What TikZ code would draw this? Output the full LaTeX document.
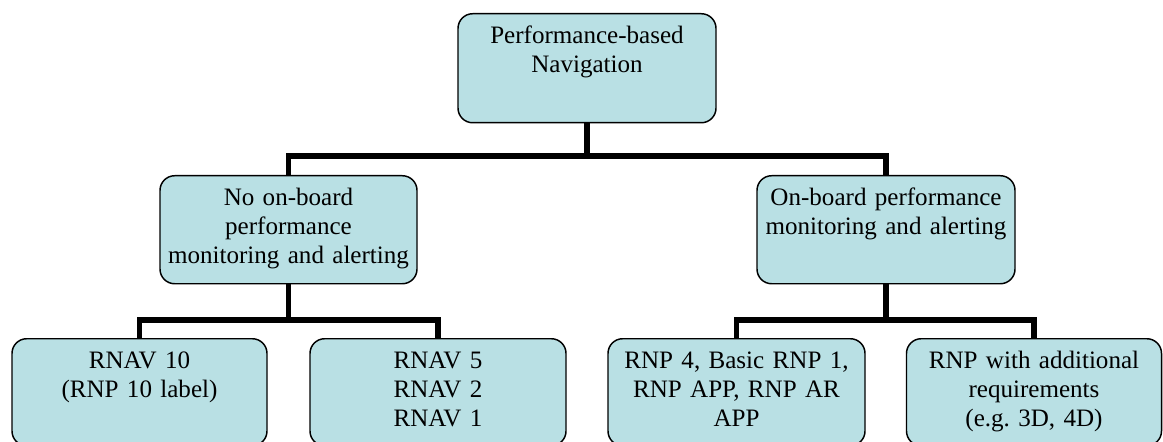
\documentclass[tikz,border=0pt]{standalone}
\usepackage{fontspec}
\setmainfont{Liberation Serif}
\frenchspacing
\definecolor{boxfill}{RGB}{185,224,228}
\tikzset{
  pbox/.style={draw=black, line width=1.1pt, fill=boxfill, rounded corners=11pt,
    inner sep=0pt, align=center, anchor=north,
    font=\fontsize{18.8}{21.75}\selectfont, text height=22.5pt},
  conn/.style={line width=4pt, draw=black},
}
\begin{document}
\begin{tikzpicture}[x=0.75pt,y=-0.75pt]
\useasboundingbox (0,0) rectangle (1163,442);
% top
\node[pbox, text width=193.5pt, text depth=59.25pt] (top) at (587,13)
  {Performance-based\\Navigation};
% middle
\node[pbox, text width=192.75pt, text depth=58.5pt] (mid1) at (288.5,175)
  {No on-board\\performance\\monitoring and alerting};
\node[pbox, text width=193.5pt, text depth=58.5pt] (mid2) at (886,175)
  {On-board performance\\monitoring and alerting};
% bottom
\node[pbox, text width=191.25pt, text depth=57.75pt] (b1) at (139.5,338)
  {RNAV 10\\(RNP 10 label)};
\node[pbox, text width=192pt, text depth=57.75pt] (b2) at (438,338)
  {RNAV 5\\RNAV 2\\RNAV 1};
\node[pbox, text width=192.75pt, text depth=57.75pt] (b3) at (736.5,338)
  {RNP 4, Basic RNP 1,\\RNP APP, RNP AR\\APP};
\node[pbox, text width=191.25pt, text depth=57.75pt] (b4) at (1034,338)
  {RNP with additional\\requirements\\(e.g. 3D, 4D)};
% connectors
\coordinate (h1) at (0,156);
\coordinate (h2) at (0,320);
\draw[conn] (top.south) -- (top.south |- h1) -| (mid1.north);
\draw[conn] (top.south |- h1) -| (mid2.north);
\draw[conn] (mid1.south) -- (mid1.south |- h2) -| (b1.north);
\draw[conn] (mid1.south |- h2) -| (b2.north);
\draw[conn] (mid2.south) -- (mid2.south |- h2) -| (b3.north);
\draw[conn] (mid2.south |- h2) -| (b4.north);
\end{tikzpicture}
\end{document}
